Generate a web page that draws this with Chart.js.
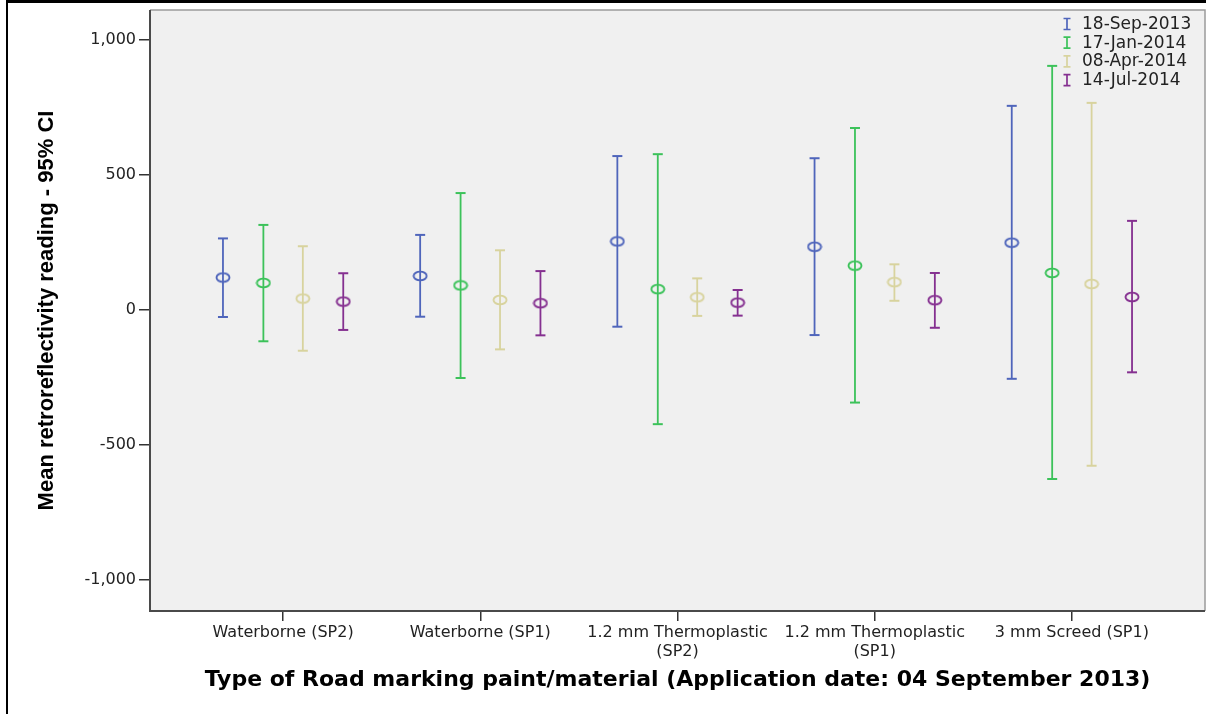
<!DOCTYPE html>
<html>
<head>
<meta charset="utf-8">
<script src="https://cdn.jsdelivr.net/npm/chart.js@4.4.1/dist/chart.umd.min.js"></script>
<style>
html,body{margin:0;padding:0;background:#fff;}
#wrap{width:1206px;height:714px;position:relative;}
canvas{display:block;}
</style>
</head>
<body>
<div id="wrap"><canvas id="c" width="1206" height="714" style="width:1206px;height:714px"></canvas></div>
<script>
// ---- Data ----
const categories = [
  'Waterborne (SP2)',
  'Waterborne (SP1)',
  ['1.2 mm Thermoplastic', '(SP2)'],
  ['1.2 mm Thermoplastic', '(SP1)'],
  '3 mm Screed (SP1)'
];
const seriesNames = ['18-Sep-2013', '17-Jan-2014', '08-Apr-2014', '14-Jul-2014'];

const sep2013Mean = [120, 126, 254, 234, 249];
const sep2013Low  = [-26, -25, -62, -93, -255];
const sep2013High = [265, 278, 570, 562, 756];

const jan2014Mean = [100, 91, 77, 164, 137];
const jan2014Low  = [-116, -252, -423, -343, -626];
const jan2014High = [315, 433, 577, 674, 904];

const apr2014Mean = [42, 37, 47, 103, 96];
const apr2014Low  = [-151, -146, -22, 34, -577];
const apr2014High = [236, 221, 117, 169, 767];

const jul2014Mean = [31, 25, 27, 36, 48];
const jul2014Low  = [-74, -94, -21, -66, -231];
const jul2014High = [136, 144, 74, 137, 330];

const yTickValues = [-1000, -500, 0, 500, 1000];

// ---- Styling / layout ----
const seriesColors = ['#4f65bb', '#3cc25a', '#d8d39e', '#853090'];
const seriesOffsets = [-0.305, -0.1, 0.1, 0.305];
const means = [sep2013Mean, jan2014Mean, apr2014Mean, jul2014Mean];
const lows = [sep2013Low, jan2014Low, apr2014Low, jul2014Low];
const highs = [sep2013High, jan2014High, apr2014High, jul2014High];

function ellipseMarker(color) {
  const cv = document.createElement('canvas');
  cv.width = 16; cv.height = 12;
  const g = cv.getContext('2d');
  g.strokeStyle = color;
  g.lineWidth = 1.9;
  g.beginPath();
  g.ellipse(8, 6, 6.5, 4.4, 0, 0, Math.PI * 2);
  g.stroke();
  return cv;
}

const datasets = [];
seriesNames.forEach((name, s) => {
  const col = seriesColors[s];
  const whisker = [];
  const caps = [];
  const pts = [];
  categories.forEach((c, i) => {
    const x = i + seriesOffsets[s];
    whisker.push({x: x, y: lows[s][i]}, {x: x, y: highs[s][i]}, {x: x, y: null});
    caps.push({x: x, y: lows[s][i]}, {x: x, y: highs[s][i]});
    pts.push({x: x, y: means[s][i]});
  });
  datasets.push({
    type: 'line', label: name + ' CI', data: whisker,
    borderColor: col, borderWidth: 1.8, pointRadius: 0, spanGaps: false, fill: false
  });
  datasets.push({
    type: 'scatter', label: name + ' caps', data: caps,
    pointStyle: 'line', pointRadius: 5, borderColor: col, pointBorderWidth: 2, borderWidth: 2
  });
  datasets.push({
    type: 'scatter', label: name, data: pts,
    pointStyle: ellipseMarker(col), pointRadius: 6
  });
});

const framePlugin = {
  id: 'frame',
  beforeDraw(chart) {
    const {ctx, chartArea: a} = chart;
    ctx.save();
    ctx.fillStyle = '#ffffff';
    ctx.fillRect(0, 0, chart.width, chart.height);
    ctx.fillStyle = '#f0f0f0';
    ctx.fillRect(a.left, a.top, a.right - a.left, a.bottom - a.top);
    ctx.restore();
  },
  afterDraw(chart) {
    const {ctx, chartArea: a} = chart;
    ctx.save();
    // plot frame
    ctx.strokeStyle = '#9a9a9a';
    ctx.lineWidth = 1.5;
    ctx.beginPath();
    ctx.moveTo(a.left, a.top); ctx.lineTo(a.right, a.top); ctx.lineTo(a.right, a.bottom);
    ctx.stroke();
    ctx.strokeStyle = '#4a4a4a';
    ctx.lineWidth = 2;
    ctx.beginPath();
    ctx.moveTo(a.left, a.top); ctx.lineTo(a.left, a.bottom); ctx.lineTo(a.right, a.bottom);
    ctx.stroke();
    // outer black border (top & left)
    ctx.fillStyle = '#000';
    ctx.fillRect(6, 0, chart.width - 6, 3);
    ctx.fillRect(6, 0, 2, chart.height);
    // legend
    ctx.font = '17px "DejaVu Sans"';
    ctx.textBaseline = 'middle';
    ctx.textAlign = 'left';
    seriesNames.forEach((n, i) => {
      const y = a.top + 14 + i * 18.7;
      const x = a.right - 138;
      ctx.strokeStyle = seriesColors[i];
      ctx.lineWidth = 1.7;
      ctx.beginPath();
      ctx.moveTo(x, y - 5.5); ctx.lineTo(x, y + 5.5);
      ctx.moveTo(x - 3.5, y - 5.5); ctx.lineTo(x + 3.5, y - 5.5);
      ctx.moveTo(x - 3.5, y + 5.5); ctx.lineTo(x + 3.5, y + 5.5);
      ctx.stroke();
      ctx.fillStyle = '#222';
      ctx.fillText(n, x + 15, y + 0.5);
    });
    ctx.restore();
  }
};

new Chart(document.getElementById('c'), {
  data: {datasets: datasets},
  options: {
    responsive: false,
    devicePixelRatio: 1,
    animation: false,
    events: [],
    layout: {autoPadding: false, padding: {top: 10, right: 1, bottom: 0, left: 0}},
    plugins: {legend: {display: false}, tooltip: {enabled: false}},
    scales: {
      x: {
        type: 'linear',
        min: -0.675, max: 4.675,
        afterFit(scale) { scale.height = 103; scale.paddingLeft = 0; scale.paddingRight = 0; },
        afterBuildTicks(scale) { scale.ticks = categories.map((c, i) => ({value: i})); },
        ticks: {
          autoSkip: false, maxRotation: 0, padding: 2,
          color: '#222',
          font: {family: 'DejaVu Sans', size: 16},
          callback: (v) => categories[v]
        },
        grid: {drawOnChartArea: false, drawTicks: true, tickLength: 10, color: '#333', lineWidth: 1.5},
        border: {display: false},
        title: {
          display: true,
          text: 'Type of Road marking paint/material (Application date: 04 September 2013)',
          color: '#000',
          font: {family: 'DejaVu Sans', size: 22, weight: 'bold'},
          padding: {top: 0, bottom: 21}
        }
      },
      y: {
        type: 'linear',
        min: -1115, max: 1111,
        afterFit(scale) { scale.width = 150; scale.paddingTop = 0; scale.paddingBottom = 0; },
        afterBuildTicks(scale) { scale.ticks = yTickValues.map(v => ({value: v})); },
        ticks: {
          padding: 3, color: '#222',
          font: {family: 'DejaVu Sans', size: 16},
          callback: (v) => v.toLocaleString('en-US')
        },
        grid: {drawOnChartArea: false, drawTicks: true, tickLength: 11, color: '#333', lineWidth: 1.5},
        border: {display: false},
        title: {
          display: true,
          text: 'Mean retroreflectivity reading - 95% CI',
          color: '#000',
          font: {family: 'Liberation Sans', size: 22, weight: 'bold'},
          padding: {top: 34, bottom: 0}
        }
      }
    }
  },
  plugins: [framePlugin]
});
</script>
</body>
</html>
